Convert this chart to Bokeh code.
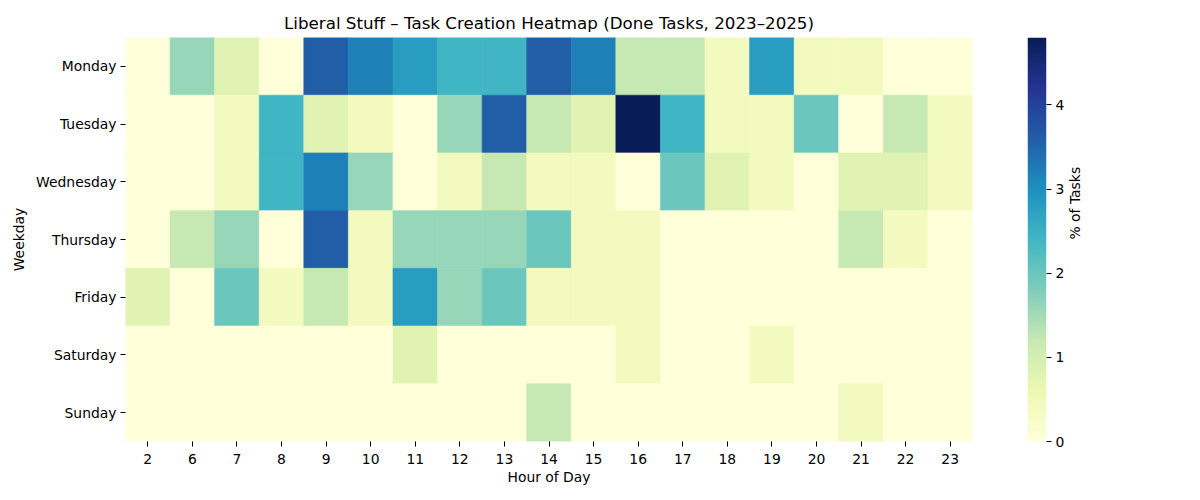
import math
import numpy as np
from bokeh.plotting import figure
from bokeh.models import ColumnDataSource, FactorRange, Range1d, LinearColorMapper, FixedTicker
from bokeh.layouts import row
from bokeh.embed import file_html
from bokeh.resources import INLINE
from bokeh.palettes import YlGnBu9

# ---- data (percent of tasks) ----
hours = ["2", "6", "7", "8", "9", "10", "11", "12", "13", "14", "15", "16", "17", "18", "19", "20", "21", "22", "23"]
days = ["Monday", "Tuesday", "Wednesday", "Thursday", "Friday", "Saturday", "Sunday"]
monday    = [0.0, 1.6, 0.8, 0.0, 3.6, 3.2, 2.8, 2.4, 2.4, 3.6, 3.2, 1.2, 1.2, 0.4, 2.8, 0.4, 0.4, 0.0, 0.0]
tuesday   = [0.0, 0.0, 0.4, 2.4, 0.8, 0.4, 0.0, 1.6, 3.6, 1.2, 0.8, 4.8, 2.4, 0.4, 0.4, 2.0, 0.0, 1.2, 0.4]
wednesday = [0.0, 0.0, 0.4, 2.4, 3.2, 1.6, 0.0, 0.4, 1.2, 0.4, 0.4, 0.0, 2.0, 0.8, 0.4, 0.0, 0.8, 0.8, 0.4]
thursday  = [0.0, 1.2, 1.6, 0.0, 3.6, 0.4, 1.6, 1.6, 1.6, 2.0, 0.4, 0.4, 0.0, 0.0, 0.0, 0.0, 1.2, 0.4, 0.0]
friday    = [0.8, 0.0, 2.0, 0.4, 1.2, 0.4, 2.8, 1.6, 2.0, 0.4, 0.4, 0.4, 0.0, 0.0, 0.0, 0.0, 0.0, 0.0, 0.0]
saturday  = [0.0, 0.0, 0.0, 0.0, 0.0, 0.0, 0.8, 0.0, 0.0, 0.0, 0.0, 0.4, 0.0, 0.0, 0.4, 0.0, 0.0, 0.0, 0.0]
sunday    = [0.0, 0.0, 0.0, 0.0, 0.0, 0.0, 0.0, 0.0, 0.0, 1.2, 0.0, 0.0, 0.0, 0.0, 0.0, 0.0, 0.4, 0.0, 0.0]
vmin, vmax = 0.0, 4.8
cbar_ticks = [0, 1, 2, 3, 4]

rows_data = [monday, tuesday, wednesday, thursday, friday, saturday, sunday]

# ---- colormap: matplotlib-like YlGnBu, 256 steps ----
anchors = list(reversed(YlGnBu9))
def hex2rgb(h):
    return [int(h[i:i + 2], 16) for i in (1, 3, 5)]
arr = np.array([hex2rgb(c) for c in anchors], dtype=float)
pos = np.linspace(0, 1, len(anchors))
t = np.linspace(0, 1, 256)
palette = ["#%02x%02x%02x" % tuple(int(round(np.interp(tt, pos, arr[:, k]))) for k in range(3)) for tt in t]
mapper = LinearColorMapper(palette=palette, low=vmin, high=vmax)

xs, ys, vs = [], [], []
for d, vals in zip(days, rows_data):
    for h, v in zip(hours, vals):
        xs.append(h)
        ys.append(d)
        vs.append(v)
src = ColumnDataSource(dict(hour=xs, day=ys, pct=vs))

FONT = "DejaVu Sans"
TICK = "13.9px"

# frame target in page px: x 125..972, y 37..441
W1, H = 1008, 492
p = figure(width=W1, height=H, output_backend="svg", toolbar_location=None,
           x_range=FactorRange(factors=hours), y_range=FactorRange(factors=list(reversed(days))),
           title="Liberal Stuff – Task Creation Heatmap (Done Tasks, 2023–2025)",
           min_border_left=125, min_border_right=W1 - 972, min_border_top=37, min_border_bottom=H - 441)
p.rect(x="hour", y="day", width=1, height=1, source=src,
       fill_color={"field": "pct", "transform": mapper},
       line_color={"field": "pct", "transform": mapper}, line_width=0.6)
p.title.align = "center"
p.title.text_font = FONT
p.title.text_font_size = "16.7px"
p.title.text_font_style = "normal"
p.title.text_color = "black"
p.outline_line_color = None
p.grid.grid_line_color = None
for ax in (p.xaxis, p.yaxis):
    ax.axis_line_color = None
    ax.major_tick_out = 5
    ax.major_tick_in = 0
    ax.major_tick_line_color = "black"
    ax.major_label_text_font = FONT
    ax.major_label_text_font_size = TICK
    ax.major_label_text_color = "black"
    ax.axis_label_text_font = FONT
    ax.axis_label_text_font_size = TICK
    ax.axis_label_text_font_style = "normal"
    ax.axis_label_text_color = "black"
p.xaxis.major_label_standoff = 7
p.yaxis.major_label_standoff = 4
p.xaxis.axis_label = "Hour of Day"
p.yaxis.axis_label = "Weekday"
p.xaxis.axis_label_standoff = 2
p.yaxis.axis_label_standoff = 6
p.background_fill_color = "white"
p.border_fill_color = "white"

# ---- colorbar as its own figure ----
W2 = 110
grad = np.linspace(vmin, vmax, 512).reshape(-1, 1)
cb = figure(width=W2, height=H, output_backend="svg", toolbar_location=None,
            x_range=Range1d(0, 1), y_range=Range1d(vmin, vmax),
            x_axis_location=None, y_axis_location="right",
            min_border_left=1027 - W1, min_border_right=W2 - (1046 - W1),
            min_border_top=37, min_border_bottom=H - 441)
cb.image(image=[grad], x=0, y=vmin, dw=1, dh=vmax - vmin, color_mapper=mapper)
cb.outline_line_color = None
cb.grid.grid_line_color = None
ya = cb.yaxis[0]
ya.ticker = FixedTicker(ticks=cbar_ticks)
ya.axis_line_color = None
ya.major_tick_out = 5
ya.major_tick_in = 0
ya.minor_tick_line_color = None
ya.major_label_text_font = FONT
ya.major_label_text_font_size = TICK
ya.major_label_text_color = "black"
ya.major_label_standoff = 4
ya.axis_label = "% of Tasks"
ya.axis_label_text_font = FONT
ya.axis_label_text_font_size = TICK
ya.axis_label_text_font_style = "normal"
ya.axis_label_text_color = "black"
ya.axis_label_standoff = 8
ya.axis_label_orientation = math.pi / 2

layout = row(p, cb)
open("out.html", "w").write(file_html(layout, INLINE))
